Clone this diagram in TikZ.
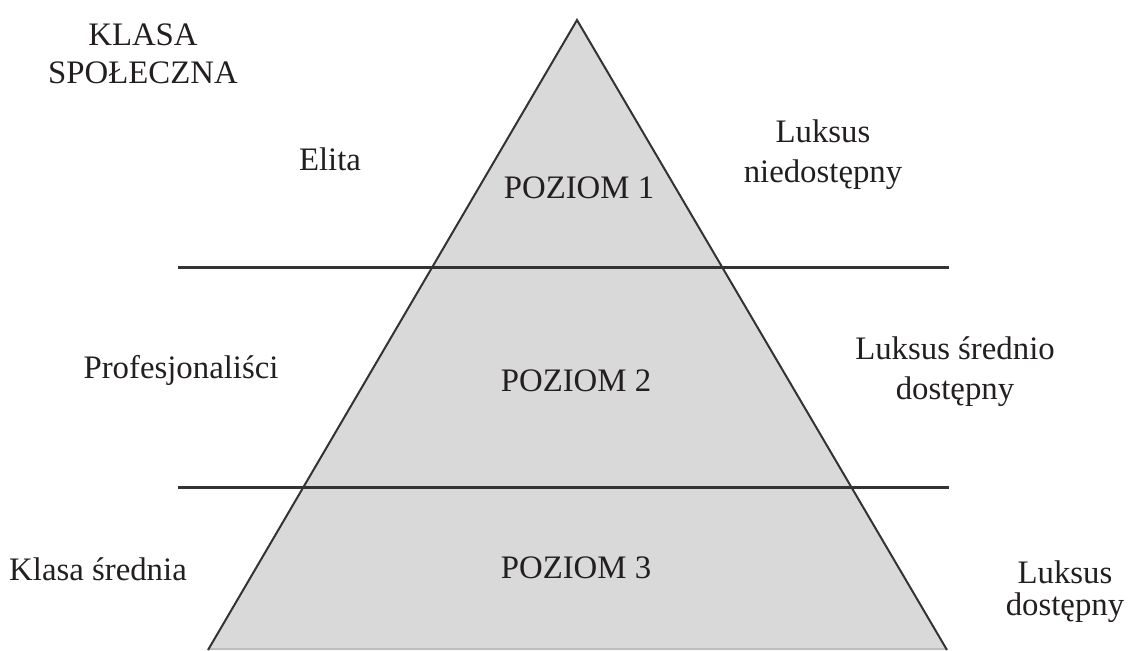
\documentclass[tikz,border=0pt]{standalone}
\usepackage{fontspec}
\setmainfont{Liberation Serif}
\definecolor{fillg}{HTML}{D9D9D9}
\definecolor{lineg}{HTML}{333333}
\definecolor{baseg}{HTML}{BDBDBD}
\definecolor{txt}{HTML}{231F20}
\begin{document}
\begin{tikzpicture}[x=0.5pt,y=-0.5pt,
  lbl/.style={font=\fontsize{16.4}{19.75}\selectfont, text=txt, inner sep=0pt, align=center},
  single/.style={lbl, anchor=base},
  multi/.style={lbl, anchor=north},
  side/.style={draw=lineg, line width=1pt, line join=miter},
  level/.style={draw=lineg, line width=1.5pt}]
\useasboundingbox (0,0) rectangle (1129,650);
% pyramid
\coordinate (apex) at (577,20);
\coordinate (bl) at (208,650);
\coordinate (br) at (947,650);
\coordinate (blb) at (208,649);
\coordinate (brb) at (947,649);
\fill[fillg] (apex) -- (bl) -- (br) -- cycle;
\draw[baseg, line width=0.8pt] (blb) -- (brb);
\draw[side] (bl) -- (apex) -- (br);
% level lines
\coordinate (h1l) at (178,267);
\coordinate (h1r) at (949,267);
\coordinate (h2l) at (178,487);
\coordinate (h2r) at (949,487);
\draw[level] (h1l) -- (h1r);
\draw[level] (h2l) -- (h2r);
% labels
\node[multi, font=\fontsize{16.4}{19}\selectfont] (klasa) at (143,23.4) {KLASA\\SPOŁECZNA};
\node[single] (elita) at (330,170) {Elita};
\node[single] (prof) at (181,378) {Profesjonaliści};
\node[single] (sred) at (98,580) {Klasa średnia};
\node[single] (p1) at (579,198) {POZIOM 1};
\node[single] (p2) at (576,391) {POZIOM 2};
\node[single] (p3) at (576,578) {POZIOM 3};
\node[multi] (lux1) at (823,119.7) {Luksus\\niedostępny};
\node[multi] (lux2) at (955,336.7) {Luksus średnio\\dostępny};
\node[multi, font=\fontsize{16.4}{16}\selectfont] (lux3) at (1065,560) {Luksus\\dostępny};
\end{tikzpicture}
\end{document}
